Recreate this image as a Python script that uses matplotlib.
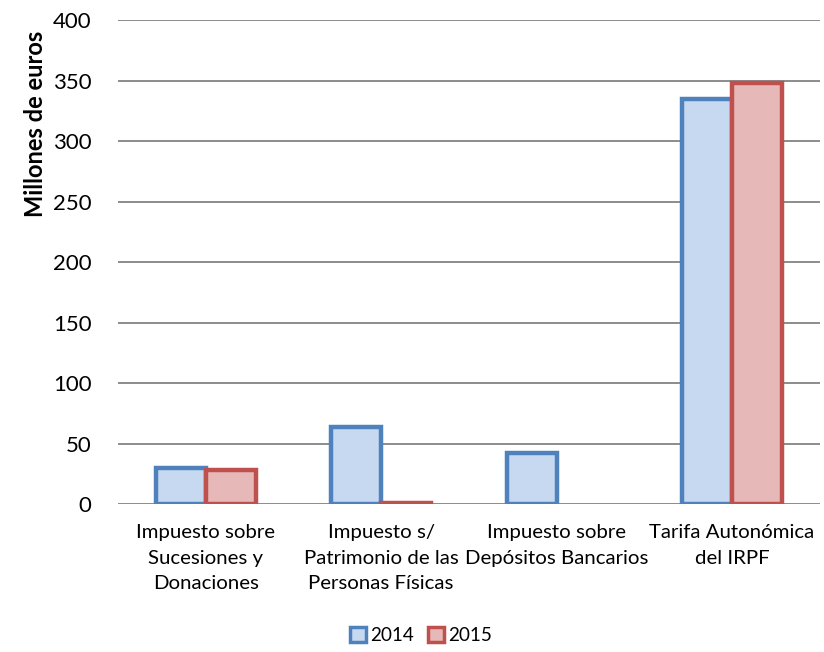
import numpy as np
import matplotlib.pyplot as plt

categories = ['Impuesto sobre\nSucesiones y\nDonaciones',
              'Impuesto s/\nPatrimonio de las\nPersonas Físicas',
              'Impuesto sobre\nDepósitos Bancarios',
              'Tarifa Autonómica\ndel IRPF']
series_names = ['2014', '2015']
values_2014 = [30, 64, 42, 335]
values_2015 = [28, 1, 0, 348]

edge_colors = ['#4F81BD', '#C0504D']
fill_colors = ['#C6D9F1', '#E6B9B8']

plt.rcParams['font.family'] = ['Lato', 'DejaVu Sans']

fig = plt.figure(figsize=(8.24, 6.52), dpi=100)
ax = fig.add_axes([0.143, 0.227, 0.852, 0.742])

x = np.arange(len(categories))
width = 0.285
for i, (name, vals) in enumerate(zip(series_names, [values_2014, values_2015])):
    offset = (i - 0.5) * width
    heights = np.array(vals, dtype=float)
    mask = heights > 0
    ax.bar(x[mask] + offset, heights[mask], width, color=fill_colors[i],
           edgecolor=edge_colors[i], linewidth=3.2, label=name, zorder=3)

ax.set_ylim(0, 400)
ax.set_xlim(-0.5, len(categories) - 0.5)
ax.set_yticks(range(0, 401, 50))
ax.yaxis.grid(True, color='#8c8c8c', linewidth=1.4, zorder=0)
ax.set_axisbelow(True)
for s in ax.spines.values():
    s.set_visible(False)
ax.tick_params(axis='y', length=0, labelsize=16, pad=19)
ax.tick_params(axis='x', length=0, labelsize=14.7, pad=14.5)
ax.set_xticks(x)
ax.set_xticklabels(categories, linespacing=1.6)
ax.set_ylabel('Millones de euros', fontsize=17, fontweight='bold')
ax.yaxis.set_label_coords(-0.117, 0.786)
ax.yaxis.label.set_va('center')

leg = fig.legend(loc='center', bbox_to_anchor=(0.511, 0.026), ncol=2, frameon=False,
                 fontsize=13.6, handlelength=0.85, handleheight=0.85, handletextpad=0.2,
                 columnspacing=0.75)
for h in leg.legend_handles:
    h.set_linewidth(2.5)

fig.savefig('out.png', dpi=100)
